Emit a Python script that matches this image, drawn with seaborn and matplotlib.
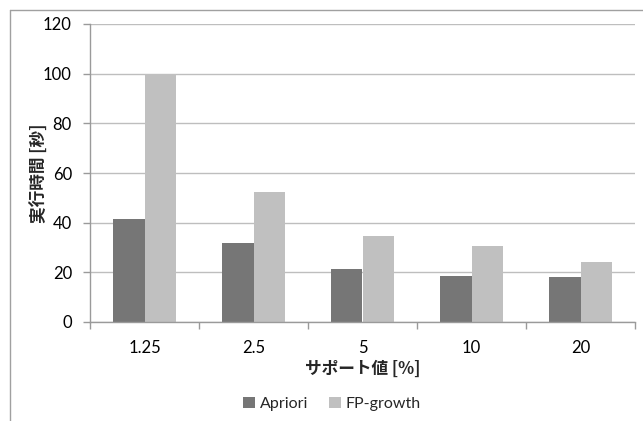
import matplotlib
matplotlib.use("Agg")
import matplotlib.pyplot as plt
from matplotlib.lines import Line2D
from matplotlib.patches import Patch
import seaborn as sns
import pandas as pd

# Execution time per support threshold
support = ["1.25", "2.5", "5", "10", "20"]
apriori = [41.5, 31.7, 21.5, 18.4, 18.0]
fp_growth = [100.0, 52.4, 34.5, 30.6, 24.1]
series = ["Apriori", "FP-growth"]
colors = ["#767676", "#C0C0C0"]

df = pd.DataFrame({
    "support": support * 2,
    "time": apriori + fp_growth,
    "algo": [series[0]] * len(support) + [series[1]] * len(support),
})

sns.set_theme(style="white")
plt.rcParams["font.family"] = ["Lato", "Noto Sans CJK JP", "DejaVu Sans"]

fig = plt.figure(figsize=(6.43, 4.21), dpi=100)
ax = fig.add_axes([90 / 643, 1 - 322 / 421, 545 / 643, 298 / 421])

sns.barplot(data=df, x="support", y="time", hue="algo", order=support,
            hue_order=series, palette=colors, width=0.571, saturation=1,
            edgecolor="none", linewidth=0, legend=False, ax=ax)

ax.set_ylim(0, 120)
ax.set_yticks(range(0, 121, 20))
ax.set_xlim(-0.5, len(support) - 0.5)
ax.yaxis.grid(True, color="#BEBEBE", linewidth=1.0)
ax.set_axisbelow(True)

for side in ("top", "right"):
    ax.spines[side].set_visible(False)
for side in ("left", "bottom"):
    ax.spines[side].set_color("#9A9A9A")
    ax.spines[side].set_linewidth(1.0)

ax.tick_params(axis="y", which="major", left=True, length=5, width=1,
               color="#9A9A9A", labelsize=12, pad=8, labelcolor="#000000")
ax.tick_params(axis="x", which="major", bottom=False, labelsize=12, pad=7,
               labelcolor="#000000")
ax.set_xticks([i - 0.5 for i in range(len(support) + 1)], minor=True)
ax.tick_params(axis="x", which="minor", bottom=True, length=5, width=1,
               color="#9A9A9A")

ax.set_xlabel("サポート値 [%]", fontsize=12, fontweight="bold",
              family=["Noto Sans CJK JP", "DejaVu Sans"], labelpad=3)
ax.set_ylabel("実行時間 [秒]", fontsize=12, fontweight="bold",
              family=["Noto Sans CJK JP", "DejaVu Sans"], labelpad=-4)

handles = [Patch(facecolor=c, edgecolor="none") for c in colors]
fig.legend(handles, series, loc="center", bbox_to_anchor=(332 / 643, 1 - 404 / 421),
           ncol=2, frameon=False, fontsize=11.5, handlelength=0.75, handleheight=0.75,
           handletextpad=0.3, columnspacing=1.3)

# Chart-area frame (top and left edges)
fig.add_artist(Line2D([10 / 643, 1.0], [1 - 9.5 / 421] * 2, color="#A0A0A0",
                      linewidth=1.0, transform=fig.transFigure))
fig.add_artist(Line2D([10 / 643] * 2, [0.0, 1 - 9.5 / 421], color="#A0A0A0",
                      linewidth=1.0, transform=fig.transFigure))

fig.savefig("out.png", dpi=100)
